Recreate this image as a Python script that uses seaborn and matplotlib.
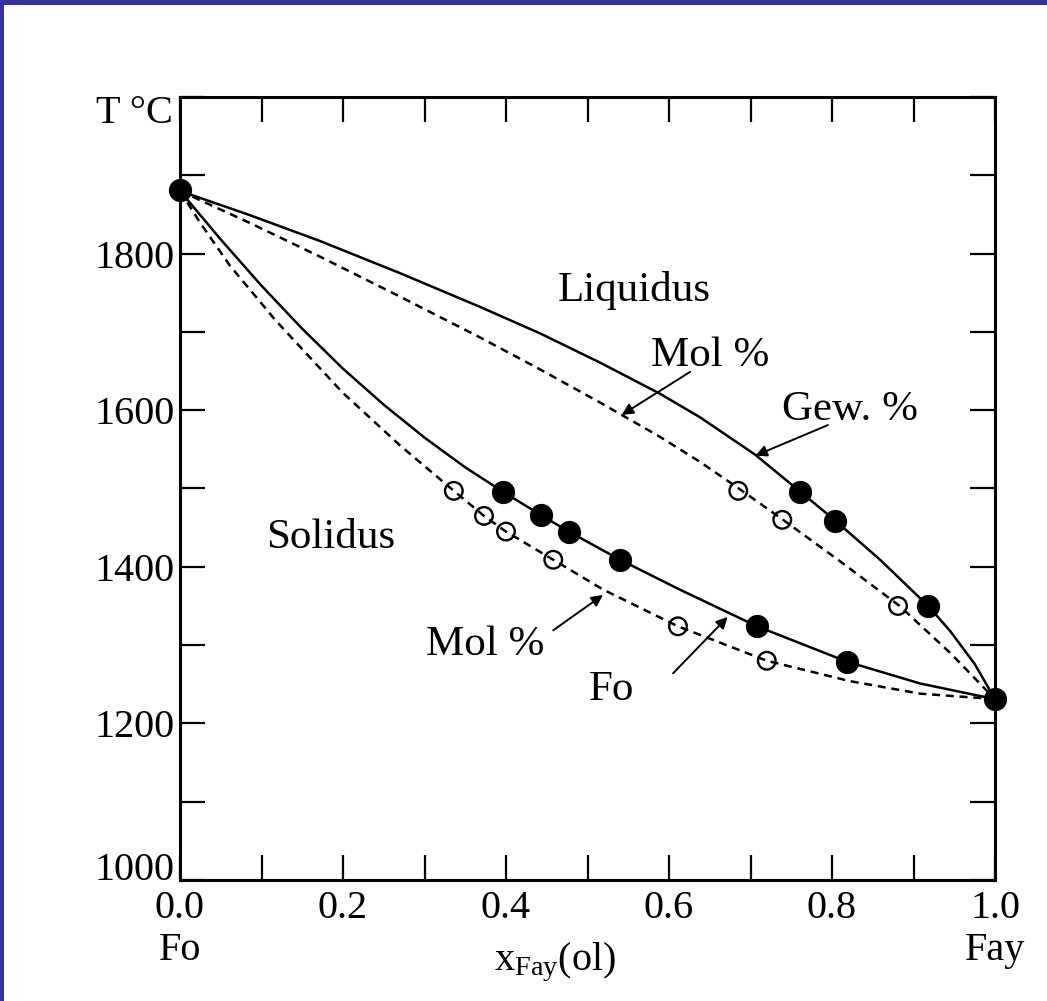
import matplotlib
matplotlib.use("Agg")
import matplotlib.pyplot as plt
import seaborn as sns
import numpy as np
from matplotlib.patches import Rectangle

# liquidus, weight % (solid line)
liq_gew_x = [0.0, 0.086, 0.172, 0.270, 0.368, 0.442, 0.515, 0.589, 0.638, 0.706,
             0.761, 0.804, 0.859, 0.918, 0.945, 0.975, 1.0]
liq_gew_t = [1880, 1849, 1816, 1775, 1732, 1698, 1661, 1621, 1591, 1543,
             1496, 1459, 1409, 1350, 1318, 1276, 1231]

# liquidus, mol % (dashed line)
liq_mol_x = [0.0, 0.086, 0.172, 0.270, 0.368, 0.442, 0.515, 0.589, 0.638, 0.687,
             0.736, 0.810, 0.883, 0.945, 1.0]
liq_mol_t = [1880, 1839, 1796, 1745, 1693, 1652, 1610, 1566, 1534, 1499,
             1463, 1407, 1350, 1290, 1231]

# solidus, weight % (solid line)
sol_gew_x = [0.0, 0.05, 0.10, 0.15, 0.20, 0.25, 0.30, 0.35, 0.396, 0.443, 0.477,
             0.540, 0.613, 0.708, 0.818, 0.908, 1.0]
sol_gew_t = [1880, 1818, 1759, 1704, 1653, 1607, 1565, 1527, 1496, 1466, 1445,
             1409, 1371, 1324, 1279, 1251, 1231]

# solidus, mol % (dashed line)
sol_mol_x = [0.0, 0.025, 0.061, 0.117, 0.199, 0.270, 0.336, 0.373, 0.400, 0.458,
             0.519, 0.611, 0.720, 0.822, 0.908, 1.0]
sol_mol_t = [1880, 1839, 1785, 1715, 1623, 1555, 1497, 1465, 1445, 1409,
             1371, 1324, 1280, 1254, 1238, 1231]

# measured points
filled_x = [0.0, 0.396, 0.443, 0.477, 0.540, 0.708, 0.818, 0.761, 0.804, 0.918, 1.0]
filled_t = [1881, 1496, 1466, 1445, 1409, 1324, 1279, 1496, 1459, 1350, 1231]
open_x = [0.336, 0.373, 0.400, 0.458, 0.611, 0.720, 0.685, 0.739, 0.881]
open_t = [1497, 1465, 1445, 1409, 1324, 1280, 1497, 1460, 1350]

x_major = [0.0, 0.2, 0.4, 0.6, 0.8, 1.0]
x_labels = ["0.0\nFo", "0.2", "0.4", "0.6", "0.8", "1.0\nFay"]
y_major = [1000, 1200, 1400, 1600, 1800, 2000]
y_labels = ["1000", "1200", "1400", "1600", "1800", ""]

sns.set_theme(style="white")
plt.rcParams["font.family"] = ["Liberation Serif", "DejaVu Serif"]
plt.rcParams["mathtext.fontset"] = "custom"
plt.rcParams["mathtext.rm"] = "Liberation Serif"
plt.rcParams["mathtext.it"] = "Liberation Serif:italic"

fig = plt.figure(figsize=(10.47, 10.01), dpi=100)
fig.patch.set_facecolor("#333399")
fig.patches.append(Rectangle((4 / 1047, 0), 1, 1 - 5 / 1001, transform=fig.transFigure,
                             facecolor="white", edgecolor="none", zorder=-1))
ax = fig.add_axes([180 / 1047, 1 - 880 / 1001, 815 / 1047, 783 / 1001])

lw = 1.8
sns.lineplot(x=liq_gew_x, y=liq_gew_t, color="black", lw=lw, ax=ax)
sns.lineplot(x=sol_gew_x, y=sol_gew_t, color="black", lw=lw, ax=ax)
sns.lineplot(x=liq_mol_x, y=liq_mol_t, color="black", lw=lw, ax=ax,
             linestyle=(0, (3.2, 2.3)))
sns.lineplot(x=sol_mol_x, y=sol_mol_t, color="black", lw=lw, ax=ax,
             linestyle=(0, (3.2, 2.3)))

sns.scatterplot(x=open_x, y=open_t, s=160, color="black", facecolor="none",
                edgecolor="black", linewidth=1.7, zorder=4, ax=ax)
sns.scatterplot(x=filled_x, y=filled_t, s=280, color="black", edgecolor="black",
                linewidth=0, zorder=5, clip_on=False, ax=ax)

ax.set_xlim(0, 1.0)
ax.set_ylim(1000, 2000)
ax.set_xticks(x_major)
ax.set_xticklabels(x_labels)
ax.set_xticks(np.arange(0.1, 1.0, 0.2), minor=True)
ax.set_yticks(y_major)
ax.set_yticklabels(y_labels)
ax.set_yticks(np.arange(1100, 2000, 200), minor=True)
ax.tick_params(which="both", direction="in", length=18, width=1.6,
               bottom=True, left=True, top=True, right=True,
               colors="black", labelsize=29)
ax.tick_params(axis="x", pad=7)
ax.tick_params(axis="y", pad=4)
ax.get_yticklabels()[0].set_verticalalignment("baseline")
for sp in ax.spines.values():
    sp.set_visible(True)
    sp.set_color("black")
    sp.set_linewidth(2.2)

ax.set_xlabel("x$_{\\mathrm{Fay}}$(ol)", fontsize=29, color="black")
ax.xaxis.set_label_coords(0.46, -0.078)
ax.set_ylabel("")
ax.text(-0.056, 0.979, "T °C", transform=ax.transAxes, fontsize=29,
        ha="center", va="center", color="black")

fs = 31
ax.text(0.557, 1753, "Liquidus", fontsize=fs, ha="center", va="center", color="black")
ax.text(0.651, 1670, "Mol %", fontsize=fs, ha="center", va="center", color="black")
ax.text(0.822, 1600, "Gew. %", fontsize=fs, ha="center", va="center", color="black")
ax.text(0.185, 1437, "Solidus", fontsize=fs, ha="center", va="center", color="black")
ax.text(0.374, 1300, "Mol %", fontsize=fs, ha="center", va="center", color="black")
ax.text(0.530, 1243, "Fo", fontsize=fs, ha="center", va="center", color="black")

arrow = dict(arrowstyle="-|>", color="black", lw=1.4, mutation_scale=17,
             shrinkA=0, shrinkB=0)
ax.annotate("", xy=(0.542, 1594), xytext=(0.626, 1649), arrowprops=arrow)
ax.annotate("", xy=(0.706, 1542), xytext=(0.795, 1581), arrowprops=arrow)
ax.annotate("", xy=(0.519, 1364), xytext=(0.458, 1319), arrowprops=arrow)
ax.annotate("", xy=(0.672, 1336), xytext=(0.605, 1264), arrowprops=arrow)

fig.savefig("out.png", dpi=100, facecolor=fig.get_facecolor())
